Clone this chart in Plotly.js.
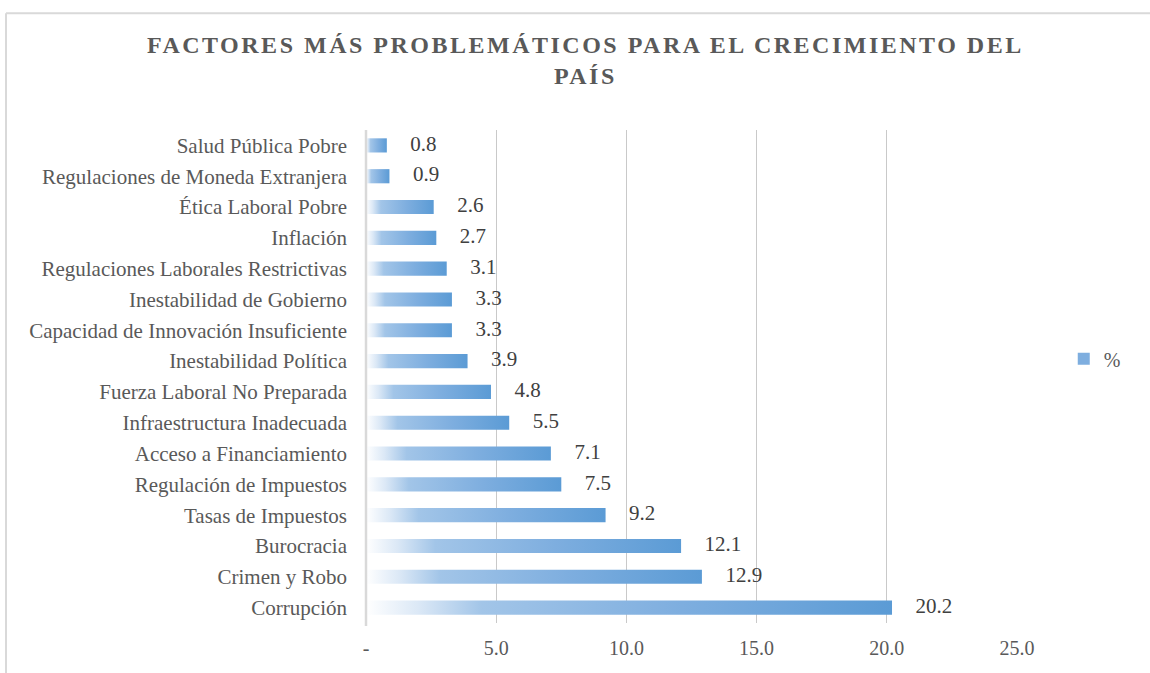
<!DOCTYPE html>
<html>
<head>
<meta charset="utf-8">
<script src="https://cdn.plot.ly/plotly-3.0.1.min.js"></script>
<style>
  html, body { margin: 0; padding: 0; background: #ffffff; }
  #chart { width: 1150px; height: 673px; }
  #chart .gtitle { letter-spacing: 2.5px; }
</style>
</head>
<body>
<div id="chart"></div>
<script>
// Categories, top to bottom as shown in the chart
const categories = [
  "Salud Pública Pobre",
  "Regulaciones de Moneda Extranjera",
  "Ética Laboral Pobre",
  "Inflación",
  "Regulaciones Laborales Restrictivas",
  "Inestabilidad de Gobierno",
  "Capacidad de Innovación Insuficiente",
  "Inestabilidad Política",
  "Fuerza Laboral No Preparada",
  "Infraestructura Inadecuada",
  "Acceso a Financiamiento",
  "Regulación de Impuestos",
  "Tasas de Impuestos",
  "Burocracia",
  "Crimen y Robo",
  "Corrupción"
];
const values = [0.8, 0.9, 2.6, 2.7, 3.1, 3.3, 3.3, 3.9, 4.8, 5.5, 7.1, 7.5, 9.2, 12.1, 12.9, 20.2];
const seriesName = "%";
const xTickVals = [0, 5, 10, 15, 20, 25];
const xTickText = ["-", "5.0", "10.0", "15.0", "20.0", "25.0"];
const chartTitle = "FACTORES MÁS PROBLEMÁTICOS PARA EL CRECIMIENTO DEL<br>PAÍS";

const serif = "'Liberation Serif', 'Times New Roman', serif";
const half = 0.23; // half bar thickness in category units
const gradient = [[0, '#ffffff'], [0.1, '#dbe8f6'], [0.22, '#a2c5e8'], [0.6, '#7eaedf'], [1, '#5b9bd5']];

const idx = categories.map((_, i) => i);

const barTraces = values.map((v, i) => ({
  type: 'scatter',
  mode: 'none',
  x: [0, v, v, 0, 0],
  y: [i - half, i - half, i + half, i + half, i - half],
  fill: 'toself',
  fillcolor: '#5b9bd5',
  fillgradient: { type: 'horizontal', colorscale: gradient },
  name: seriesName,
  showlegend: false,
  hoverinfo: 'skip'
}));

// legend entry only (square swatch)
const legendTrace = {
  type: 'bar',
  orientation: 'h',
  x: [null],
  y: [null],
  name: seriesName,
  marker: { color: '#7eaedf' },
  showlegend: true,
  hoverinfo: 'skip'
};

const labelTrace = {
  type: 'scatter',
  mode: 'markers+text',
  x: values,
  y: idx,
  text: values.map(v => v.toFixed(1)),
  textposition: 'middle right',
  textfont: { family: serif, size: 21, color: '#404040' },
  marker: { size: 36, color: 'rgba(0,0,0,0)' },
  showlegend: false,
  hovertemplate: '%{text}<extra></extra>'
};

const layout = {
  width: 1150,
  height: 673,
  margin: { l: 366, r: 133, t: 130, b: 50 },
  paper_bgcolor: '#ffffff',
  plot_bgcolor: '#ffffff',
  font: { family: serif, color: '#595959', size: 20 },
  title: {
    text: chartTitle,
    font: { family: serif, size: 24, color: '#595959', weight: 'bold' },
    x: 0.509, xanchor: 'center', xref: 'container',
    y: 0.921, yanchor: 'middle', yref: 'container'
  },
  xaxis: {
    range: [0, 25],
    tickvals: xTickVals,
    ticktext: xTickText,
    showgrid: true,
    gridcolor: '#c9c9c9',
    gridwidth: 1,
    zeroline: false,
    showline: false,
    ticks: '',
    ticklabelstandoff: 11,
    tickfont: { family: serif, size: 20, color: '#595959' },
    fixedrange: true
  },
  yaxis: {
    range: [15.5, -0.5],
    tickvals: idx,
    ticktext: categories,
    showgrid: false,
    zeroline: false,
    showline: false,
    ticks: '',
    ticklabelstandoff: 18,
    tickfont: { family: serif, size: 21, color: '#595959' },
    fixedrange: true
  },
  showlegend: true,
  legend: {
    xref: 'container', yref: 'container',
    x: 0.925, xanchor: 'left', y: 0.467, yanchor: 'middle',
    font: { family: serif, size: 20, color: '#595959' },
    itemwidth: 30,
    bgcolor: 'rgba(0,0,0,0)'
  },
  shapes: [
    { type: 'line', xref: 'paper', yref: 'paper', x0: 0, x1: 0, y0: -0.006, y1: 1.0,
      line: { color: '#d9d9d9', width: 2.5 } },
    { type: 'line', xref: 'paper', yref: 'paper', x0: -0.553, x1: -0.553, y0: 1.237, y1: -0.2,
      line: { color: '#d9d9d9', width: 2 } },
    { type: 'line', xref: 'paper', yref: 'paper', x0: -0.553, x1: 1.3, y0: 1.237, y1: 1.237,
      line: { color: '#d9d9d9', width: 2 } }
  ]
};

Plotly.newPlot('chart', barTraces.concat([legendTrace, labelTrace]), layout, { displayModeBar: false, responsive: false });
</script>
</body>
</html>
